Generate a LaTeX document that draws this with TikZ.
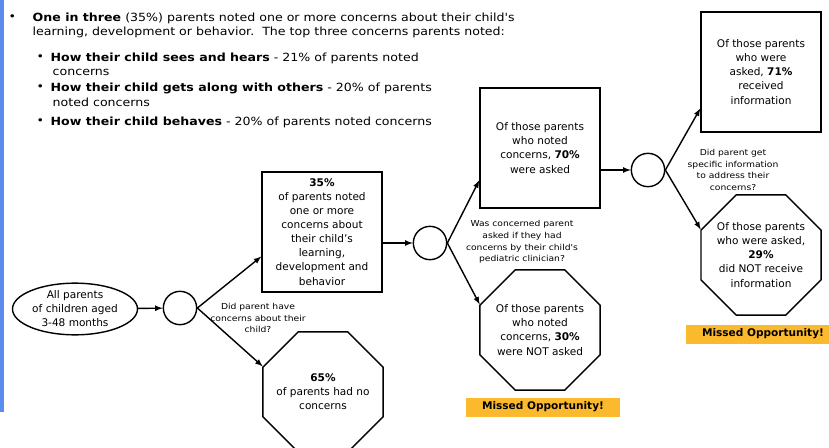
\documentclass[tikz,border=0pt]{standalone}
\usepackage{fontspec}
\setmainfont{DejaVu Sans}
\newfontfamily\widefam[FakeStretch=1.12]{DejaVu Sans}
\usetikzlibrary{positioning,arrows}
\usetikzlibrary{shapes.geometric}
\definecolor{barblue}{RGB}{91,141,239}
\definecolor{missorange}{RGB}{251,186,46}
\newcommand\boxtxt{\fontsize{9}{12}\selectfont}
\newcommand\asktxt{\widefam\fontsize{7}{10}\selectfont}
\newcommand\headtxt{\widefam\fontsize{9.6}{11}\selectfont}
\tikzstyle{box}=[draw, rectangle, minimum size=3.6cm, inner sep=1pt, align=center, font=\boxtxt]
\tikzstyle{oct}=[draw, regular polygon, regular polygon sides=8, minimum size=3.9cm, inner sep=-12pt, align=center, font=\boxtxt]
\tikzstyle{dec}=[draw, circle, minimum size=1cm, inner sep=0pt]
\tikzstyle{start}=[draw, ellipse, minimum width=3.75cm, minimum height=1.55cm, inner sep=0pt, align=center, font=\boxtxt]
\tikzstyle{ask}=[align=center, font=\asktxt]
\tikzstyle{missed}=[fill=missorange, minimum width=4.6cm, minimum height=0.57cm, inner sep=0pt, font=\fontsize{9}{10}\selectfont\bfseries]
\tikzstyle{hl}=[anchor=west, inner sep=0pt, font=\headtxt]

\begin{document}
\begin{tikzpicture}[x=0.03cm, y=-0.03cm, line width=1.2pt, >=latex]
	\useasboundingbox (0,0) rectangle (829,448);
	\fill[barblue] (0,0) rectangle (4,412);
	% top text
	\node[hl] (bul0) at (8,18) {•};
	\node[hl] (h1a) at (32,18) {\textbf{One in three} (35\%) parents noted one or more concerns about their child's};
	\node[hl] (h1b) at (32,32) {learning, development or behavior.\ \ The top three concerns parents noted:};
	\node[hl] (bul1) at (36,58) {•};
	\node[hl] (h2a) at (50,58) {\textbf{How their child sees and hears} - 21\% of parents noted};
	\node[hl] (h2b) at (52,72) {concerns};
	\node[hl] (bul2) at (36,88) {•};
	\node[hl] (h3a) at (50,88) {\textbf{How their child gets along with others} - 20\% of parents};
	\node[hl] (h3b) at (52,102) {noted concerns};
	\node[hl] (bul3) at (36,122) {•};
	\node[hl] (h4) at (50,122) {\textbf{How their child behaves} - 20\% of parents noted concerns};
	% flow
	\node[start] (all) at (75,309) {All parents\\of children aged\\3-48 months};
	\node[dec] (c1) at (180,308) {};
	\node[box] (b1) at (322,232) {\textbf{35\%}\\of parents noted\\one or more\\concerns about\\their child's\\learning,\\development and\\behavior};
	\node[oct] (o1) at (323,392) {\textbf{65\%}\\of parents had no\\concerns};
	\node[ask] (q1) at (258,318) {Did parent have\\concerns about their\\child?};
	\node[dec] (c2) at (430,243) {};
	\node[box] (b2) at (540,148) {Of those parents\\who noted\\concerns, \textbf{70\%}\\were asked};
	\node[oct] (o2) at (540,330) {Of those parents\\who noted\\concerns, \textbf{30\%}\\were NOT asked};
	\node[ask] (q2) at (522,242) {Was concerned parent\\asked if they had\\concerns by their child's\\pediatric clinician?};
	\node[missed] (m1) at (543,407) {Missed Opportunity!};
	\node[dec] (c3) at (648,170) {};
	\node[box] (b3) at (761,72) {Of those parents\\who were\\asked, \textbf{71\%}\\received\\information};
	\node[oct] (o3) at (761,255) {Of those parents\\who were asked,\\\textbf{29\%}\\did NOT receive\\information};
	\node[ask] (q3) at (733,170) {Did parent get\\specific information\\to address their\\concerns?};
	\node[missed] (m2) at (763,334) {Missed Opportunity!};

	\draw (all) edge[->] (c1);
	\draw (c1.east) edge[->] (b1.202);
	\draw (c1.east) edge[->] (o1.157.5);
	\draw (b1.east |- c2.west) edge[->] (c2.west);
	\draw (c2.east) edge[->] (b2.208);
	\draw (c2.east) edge[->] (o2.157.5);
	\draw (b2.east |- c3.west) edge[->] (c3.west);
	\draw (c3.east) edge[->] (b3.211);
	\draw (c3.east) edge[->] (o3.157.5);
\end{tikzpicture}
\end{document}
